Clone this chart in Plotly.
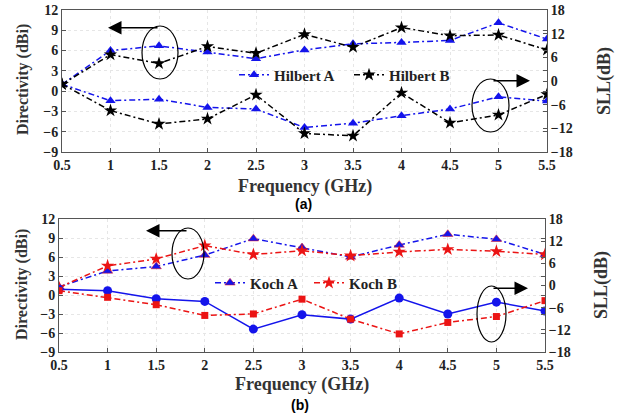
import plotly.graph_objects as go

freq = [0.5, 1, 1.5, 2, 2.5, 3, 3.5, 4, 4.5, 5, 5.5]
freq_ticks = [0.5, 1, 1.5, 2, 2.5, 3, 3.5, 4, 4.5, 5, 5.5]
freq_ticklabels = ["0.5", "1", "1.5", "2", "2.5", "3", "3.5", "4", "4.5", "5", "5.5"]

# (a) Hilbert
hilbert_a_dir = [1.0, 6.0, 6.7, 5.8, 4.8, 6.1, 7.0, 7.2, 7.5, 10.1, 7.7]
hilbert_b_dir = [1.0, 5.4, 4.1, 6.6, 5.6, 8.4, 6.5, 9.4, 8.2, 8.3, 6.1]
hilbert_a_sll = [-0.8, -5.0, -4.6, -6.7, -7.1, -11.8, -10.7, -8.8, -7.1, -4.0, -5.1]
hilbert_b_sll = [-0.8, -7.5, -10.9, -9.6, -3.5, -13.3, -13.9, -3.0, -10.6, -8.6, -3.4]

# (b) Koch
koch_a_dir = [1.3, 3.8, 4.5, 6.3, 8.9, 7.5, 6.0, 7.9, 9.6, 8.8, 6.4]
koch_b_dir = [1.2, 4.6, 5.7, 7.8, 6.4, 7.0, 6.2, 6.8, 7.2, 6.9, 6.4]
koch_a_sll = [-1.0, -1.4, -3.6, -4.3, -11.8, -7.9, -9.1, -3.4, -7.7, -4.5, -6.9]
koch_b_sll = [-1.4, -3.2, -5.2, -8.1, -7.7, -3.7, -9.1, -13.1, -10.0, -8.4, -4.1]

left_ticks = [-9, -6, -3, 0, 3, 6, 9, 12]
right_ticks = [-18, -12, -6, 0, 6, 12, 18]

W, H = 622, 417
def px(x):
    return x / W
def py(y):
    return 1 - y / H

BLUE = "rgb(20,20,235)"
RED = "rgb(235,20,20)"
BLACK = "black"
DASHDOT = "6px,3px,2px,3px"
SERIF = "Liberation Serif, DejaVu Serif, serif"
tickfont = dict(family=SERIF, size=14, color="#222", weight="bold")

fig = go.Figure()

# Top panel
fig.add_trace(go.Scatter(x=freq, y=hilbert_a_dir, name="Hilbert A", xaxis="x", yaxis="y",
    mode="lines+markers", line=dict(color=BLUE, dash=DASHDOT, width=1.5),
    marker=dict(symbol="triangle-up", size=9, color=BLUE), legend="legend"))
fig.add_trace(go.Scatter(x=freq, y=hilbert_b_dir, name="Hilbert B", xaxis="x", yaxis="y",
    mode="lines+markers", line=dict(color=BLACK, dash=DASHDOT, width=1.5),
    marker=dict(symbol="star", size=10, color=BLACK), legend="legend"))
fig.add_trace(go.Scatter(x=freq, y=hilbert_a_sll, name="Hilbert A SLL", xaxis="x", yaxis="y2",
    mode="lines+markers", line=dict(color=BLUE, dash=DASHDOT, width=1.5),
    marker=dict(symbol="triangle-up", size=9, color=BLUE), showlegend=False))
fig.add_trace(go.Scatter(x=freq, y=hilbert_b_sll, name="Hilbert B SLL", xaxis="x", yaxis="y2",
    mode="lines+markers", line=dict(color=BLACK, dash=DASHDOT, width=1.5),
    marker=dict(symbol="star", size=10, color=BLACK), showlegend=False))

# Bottom panel
fig.add_trace(go.Scatter(x=freq, y=koch_a_dir, name="Koch A", xaxis="x2", yaxis="y3",
    mode="lines+markers", line=dict(color=BLUE, dash=DASHDOT, width=1.5),
    marker=dict(symbol="triangle-up", size=9, color=BLUE, line=dict(color=RED, width=0.5)), legend="legend2"))
fig.add_trace(go.Scatter(x=freq, y=koch_b_dir, name="Koch B", xaxis="x2", yaxis="y3",
    mode="lines+markers", line=dict(color=RED, dash=DASHDOT, width=1.5),
    marker=dict(symbol="star", size=10, color=RED), legend="legend2"))
fig.add_trace(go.Scatter(x=freq, y=koch_a_sll, name="Koch A SLL", xaxis="x2", yaxis="y4",
    mode="lines+markers", line=dict(color=BLUE, width=1.5),
    marker=dict(symbol="circle", size=9, color=BLUE), showlegend=False))
fig.add_trace(go.Scatter(x=freq, y=koch_b_sll, name="Koch B SLL", xaxis="x2", yaxis="y4",
    mode="lines+markers", line=dict(color=RED, dash=DASHDOT, width=1.5),
    marker=dict(symbol="square", size=7, color=RED), showlegend=False))

xcommon = dict(range=[0.5, 5.5], tickvals=freq_ticks, ticktext=freq_ticklabels,
               showgrid=True, gridcolor="#e6e6e6", griddash="dot", zeroline=False,
               showline=True, linecolor="#555", linewidth=1, mirror=True, automargin=False,
               ticks="inside", ticklen=4, tickcolor="#555", tickfont=tickfont)
ylcommon = dict(range=[-9, 12], tickvals=left_ticks, showgrid=True, gridcolor="#e6e6e6",
                griddash="dot", zeroline=False, showline=True, linecolor="#555", linewidth=1,
                mirror="ticks", automargin=False, ticks="inside", ticklen=4, tickcolor="#555",
                tickfont=tickfont)
yrcommon = dict(range=[-18, 18], tickvals=right_ticks, showgrid=False, zeroline=False,
                showline=True, linecolor="#555", linewidth=1, side="right", automargin=False,
                ticks="inside", ticklen=4, tickcolor="#555", tickfont=tickfont)

legfont = dict(family=SERIF, size=15, color="#222", weight="bold")
fig.update_layout(
    width=W, height=H, margin=dict(l=0, r=0, t=0, b=0, autoexpand=False),
    paper_bgcolor="white", plot_bgcolor="white",
    xaxis=dict(domain=[px(62), px(547)], anchor="y", **xcommon),
    yaxis=dict(domain=[py(152), py(10)], anchor="x", **ylcommon),
    yaxis2=dict(overlaying="y", anchor="x", **yrcommon),
    xaxis2=dict(domain=[px(59), px(545)], anchor="y3", **xcommon),
    yaxis3=dict(domain=[py(352), py(219)], anchor="x2", **ylcommon),
    yaxis4=dict(overlaying="y3", anchor="x2", **yrcommon),
    legend=dict(orientation="h", x=px(234), y=py(75), xanchor="left", yanchor="middle",
                bgcolor="rgba(0,0,0,0)", font=legfont, itemwidth=30, entrywidth=70),
    legend2=dict(orientation="h", x=px(210), y=py(283), xanchor="left", yanchor="middle",
                 bgcolor="rgba(0,0,0,0)", font=legfont, itemwidth=30, entrywidth=54),
    showlegend=True,
)

vfont = dict(family=SERIF, size=16, color="#333", weight="bold")
sfont = dict(family=SERIF, size=18, color="#333", weight="bold")
hfont = dict(family=SERIF, size=18, color="#333", weight="bold")
ann = []
def label(text, x, y, angle, font):
    ann.append(dict(text=text, x=px(x), y=py(y), xref="paper", yref="paper",
                    xanchor="center", yanchor="middle",
                    showarrow=False, textangle=angle, font=font))
label("Directivity (dBi)", 23, 80, -90, vfont)
label("SLL(dB)", 604, 81, -90, sfont)
label("Frequency (GHz)", 305, 186, 0, hfont)
label("Directivity (dBi)", 22, 285, -90, vfont)
label("SLL(dB)", 601, 285, -90, sfont)
label("Frequency (GHz)", 302, 384, 0, hfont)
afont = dict(family="Liberation Sans, Arial, sans-serif", size=14, color="black", weight="bold")
label("(a)", 303, 204, 0, afont)
label("(b)", 300, 405, 0, afont)

def arrow(tipx, tipy, tailx):
    ann.append(dict(x=px(tipx), y=py(tipy), xref="paper", yref="paper", ax=tailx - tipx, ay=0,
                    showarrow=True, arrowhead=2, arrowsize=1.8, arrowwidth=1.5,
                    arrowcolor="black", text=""))
arrow(108, 27.7, 159)
arrow(530, 80.7, 492)
arrow(146, 230.7, 188)
arrow(528, 288.3, 492)
fig.update_layout(annotations=ann)

shapes = []
def ellipse(x0, y0, x1, y1):
    shapes.append(dict(type="circle", xref="paper", yref="paper",
                       x0=px(x0), x1=px(x1), y0=py(y1), y1=py(y0),
                       line=dict(color="black", width=1.2)))
ellipse(142, 26, 178, 79)
ellipse(472, 79, 509, 132)
ellipse(172, 228, 204, 279)
ellipse(477, 286, 506, 342)
fig.update_layout(shapes=shapes)

fig.write_html("out.html", config={"displayModeBar": False},
               post_script="document.body.style.margin='0';document.body.style.overflow='hidden';")
